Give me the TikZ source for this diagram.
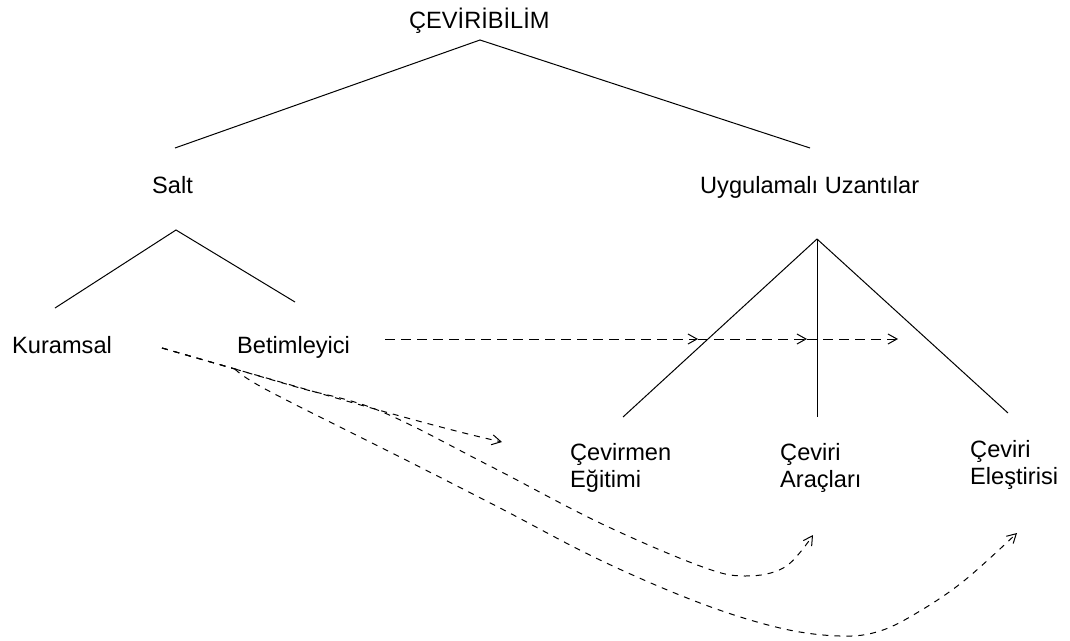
\documentclass[tikz,border=0pt]{standalone}
\usepackage{fontspec}
\setmainfont{Liberation Sans}
\usetikzlibrary{arrows.meta}
\begin{document}
\begin{tikzpicture}[x=1pt,y=-1pt,
  lbl/.style={inner sep=0pt, font=\fontsize{23.6}{27}\selectfont, anchor=base west},
  lbltwo/.style={inner sep=0pt, font=\fontsize{23.6}{27}\selectfont, align=left, anchor=north west},
  ln/.style={line width=1pt},
  tip/.style={-{Straight Barb[length=9pt,width=10pt]}},
  hdash/.style={line width=1pt, dash pattern=on 10pt off 6pt, tip},
  cdash/.style={line width=1pt, dash pattern=on 6pt off 6pt, tip}]
\useasboundingbox (0,0) rectangle (1070,640);
% labels
\node[lbl] (root) at (409,28) {ÇEVİRİBİLİM};
\node[lbl] (salt) at (152,193) {Salt};
\node[lbl] (uyg) at (700,193) {Uygulamalı Uzantılar};
\node[lbl] (kur) at (12,353) {Kuramsal};
\node[lbl] (bet) at (237,353) {Betimleyici};
\node[lbltwo] (cev) at (570,443) {Çevirmen\\Eğitimi};
\node[lbltwo] (ara) at (780,443) {Çeviri\\Araçları};
\node[lbltwo] (ele) at (970,440) {Çeviri\\Eleştirisi};
% tree coordinates
\coordinate (rA) at (480,40);
\coordinate (rL) at (175,148);
\coordinate (rR) at (810,148);
\coordinate (sA) at (176,230);
\coordinate (sL) at (55,308);
\coordinate (sR) at (295,302);
\coordinate (uA) at (817,239);
\coordinate (uL) at (623,417);
\coordinate (uM) at (817,417);
\coordinate (uR) at (1008,413);
\draw[ln] (rL) -- (rA) -- (rR);
\draw[ln] (sL) -- (sA) -- (sR);
\draw[ln] (uL) -- (uA) -- (uR);
\draw[ln] (uA) -- (uM);
% horizontal dashed arrows
\coordinate (h0) at (385,339);
\coordinate (h1) at (698,339);
\coordinate (h2) at (807,339);
\coordinate (h3) at (898,339);
\draw[hdash] (h0) -- (h1);
\draw[hdash] (h1) -- (h2);
\draw[hdash] (h2) -- (h3);
% curved dashed arrows
\coordinate (k0) at (162,348);
\coordinate (k1) at (235,369);
\coordinate (a1) at (502,442);
\coordinate (b1) at (813,535);
\coordinate (c1) at (1017,533);
\draw[cdash] (k0) -- (k1) .. controls (330,396) and (430,426) .. (a1);
\draw[cdash] (k0) -- (k1) plot[smooth, tension=0.6] coordinates {(k1) (300,388) (380,411) (490,466) (600,523) (700,566) (745,576) (785,567) (b1)};
\draw[cdash] (k0) -- (k1) plot[smooth, tension=0.6] coordinates {(k1) (267,390) (400,457) (500,508) (600,560) (700,603) (780,628) (840,636) (880,631) (920,611) (965,580) (c1)};
\end{tikzpicture}
\end{document}
